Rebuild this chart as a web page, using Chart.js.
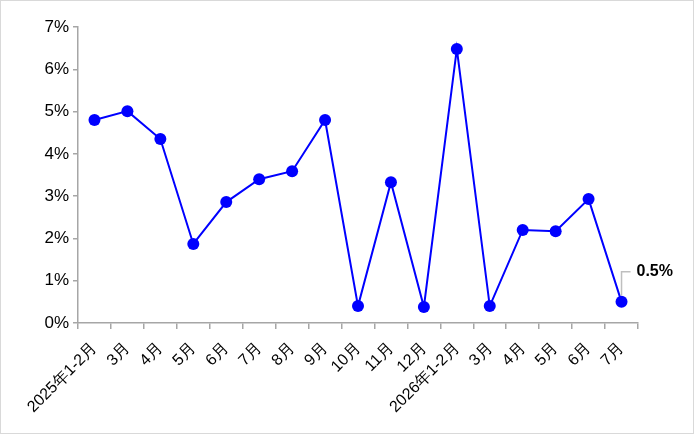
<!DOCTYPE html>
<html>
<head>
<meta charset="utf-8">
<script src="https://cdn.jsdelivr.net/npm/chart.js@4/dist/chart.umd.min.js"></script>
<style>
  html, body { margin: 0; padding: 0; background: #fff; }
  #wrap {
    width: 694px; height: 434px;
    box-sizing: border-box;
    border: 1px solid #d9d9d9;
    background: #fff;
  }
</style>
</head>
<body>
<div id="wrap"><canvas id="chart" width="692" height="432"></canvas></div>
<script>
// ─── Data ───
const categories = [
    '2025年1-2月', '3月', '4月', '5月', '6月', '7月', '8月', '9月', '10月', '11月', '12月',
    '2026年1-2月', '3月', '4月', '5月', '6月', '7月'
];
const growth = [4.80, 5.01, 4.35, 1.87, 2.86, 3.40, 3.59, 4.80, 0.40, 3.33, 0.38,
                6.48, 0.40, 2.20, 2.17, 2.93, 0.5];
const yTicks = [0, 1, 2, 3, 4, 5, 6, 7];

const AXIS = '#a6a6a6';
const FONT = 'Liberation Sans, Arial, sans-serif';

// ─── Callout for the last point ───
const lastLabel = {
    id: 'lastLabel',
    afterDatasetsDraw(chart) {
        const meta = chart.getDatasetMeta(0);
        const i = growth.length - 1;
        const pt = meta.data[i];
        const ctx = chart.ctx;
        const topY = pt.y - 30;
        ctx.save();
        ctx.strokeStyle = '#bfbfbf';
        ctx.lineWidth = 1.5;
        ctx.beginPath();
        ctx.moveTo(pt.x, pt.y - 6);
        ctx.lineTo(pt.x, topY);
        ctx.lineTo(pt.x + 9, topY);
        ctx.stroke();
        ctx.fillStyle = '#000';
        ctx.font = 'bold 16px ' + FONT;
        ctx.textBaseline = 'middle';
        ctx.textAlign = 'left';
        ctx.fillText(growth[i] + '%', pt.x + 15, topY);
        ctx.restore();
    }
};

new Chart(document.getElementById('chart'), {
    type: 'line',
    data: {
        labels: categories,
        datasets: [{
            data: growth,
            borderColor: '#0000ff',
            backgroundColor: '#0000ff',
            borderWidth: 2,
            pointRadius: 6,
            pointHoverRadius: 6,
            pointBackgroundColor: '#0000ff',
            pointBorderWidth: 0,
            tension: 0,
            fill: false
        }]
    },
    options: {
        responsive: false,
        animation: false,
        layout: { padding: { top: 26, right: 55, bottom: 0, left: 0 } },
        plugins: {
            legend: { display: false },
            tooltip: { enabled: false }
        },
        scales: {
            x: {
                offset: true,
                grid: {
                    offset: true,
                    drawOnChartArea: false,
                    drawTicks: true,
                    tickLength: 6,
                    color: AXIS,
                    lineWidth: 1.5
                },
                border: { color: AXIS, width: 1.5 },
                ticks: {
                    autoSkip: false,
                    maxRotation: 45,
                    minRotation: 45,
                    padding: 10,
                    color: '#000',
                    font: { family: FONT, size: 16 }
                },
                afterFit(s) {
                    s.height = 432 - 322;
                    s.paddingLeft = 0;
                    s.paddingRight = 0;
                }
            },
            y: {
                min: 0,
                max: 7,
                afterBuildTicks(s) { s.ticks = yTicks.map(v => ({ value: v })); },
                grid: {
                    drawOnChartArea: false,
                    drawTicks: true,
                    tickLength: 5,
                    color: AXIS,
                    lineWidth: 1.5
                },
                border: { color: AXIS, width: 1.5 },
                ticks: {
                    padding: 4,
                    color: '#000',
                    font: { family: FONT, size: 17 },
                    callback: v => v + '%'
                },
                afterFit(s) {
                    s.width = 77;
                    s.paddingTop = 0;
                    s.paddingBottom = 0;
                }
            }
        }
    },
    plugins: [lastLabel]
});
</script>
</body>
</html>
